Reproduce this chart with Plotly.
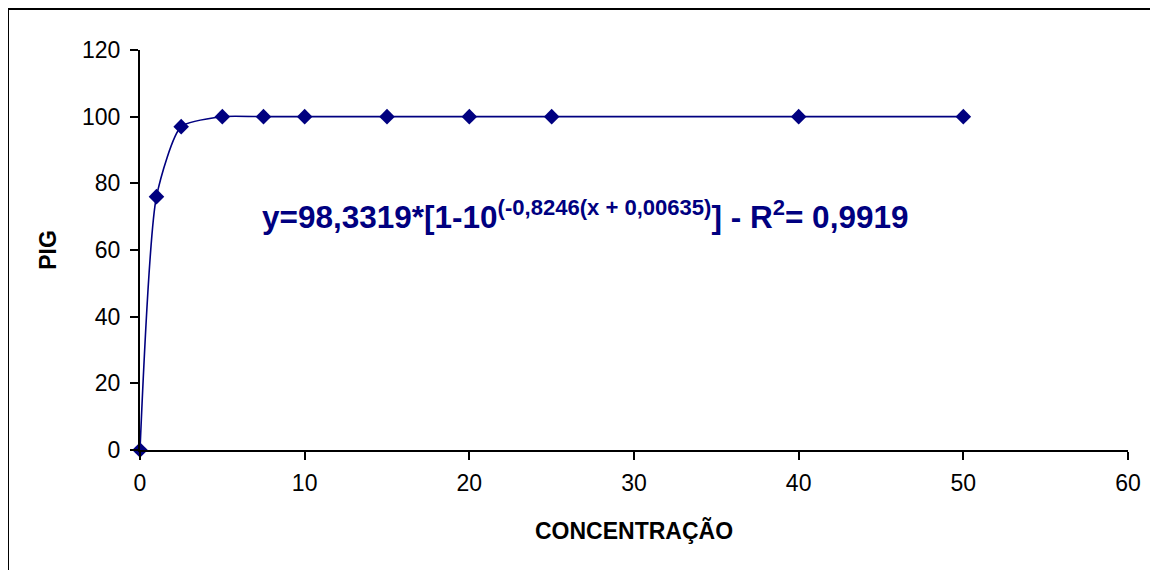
import plotly.graph_objects as go

concentracao = [0, 1, 2.5, 5, 7.5, 10, 15, 20, 25, 40, 50]
pig = [0, 76, 97, 100, 100, 100, 100, 100, 100, 100, 100]
x_ticks = [0, 10, 20, 30, 40, 50, 60]
y_ticks = [0, 20, 40, 60, 80, 100, 120]

navy = "#000080"
font_fam = "Arial, Liberation Sans"

# page has an 8px body margin; figure is sized so the page is 1158x570
W, H = 1150, 562
L, R, T, B = 132, 30, 42, 120
PW, PH = W - L - R, H - T - B

fig = go.Figure()
fig.add_trace(go.Scatter(
    x=concentracao, y=pig, mode="lines+markers",
    line=dict(color=navy, width=1.6, shape="spline", smoothing=0.6),
    marker=dict(symbol="diamond", size=12, color=navy),
    showlegend=False, cliponaxis=False,
))

axis_common = dict(
    showgrid=False, zeroline=False, showline=True, linecolor="black", linewidth=2,
    ticks="outside", ticklen=8, tickwidth=1.5, tickcolor="black",
    tickfont=dict(family=font_fam, size=23, color="black"),
)

fig.update_layout(
    width=W, height=H,
    paper_bgcolor="white", plot_bgcolor="white",
    margin=dict(l=L, r=R, t=T, b=B),
    xaxis=dict(range=[0, 60], tickvals=x_ticks, ticklabelstandoff=3,
               title=dict(text="<b>CONCENTRAÇÃO</b>", standoff=28,
                          font=dict(family=font_fam, size=23, color="black")),
               **axis_common),
    yaxis=dict(range=[0, 120], tickvals=y_ticks, ticklabelstandoff=5,
               title=dict(text="<b>PIG</b>", standoff=19,
                          font=dict(family=font_fam, size=23, color="black")),
               **axis_common),
    annotations=[dict(
        x=27.0, y=70.5, xref="x", yref="y", xanchor="center", yanchor="middle",
        text="<b>y=98,3319*[1-10<sup>(-0,8246(x + 0,00635)</sup>] - R<sup>2</sup>= 0,9919</b>",
        showarrow=False,
        font=dict(family=font_fam, size=31.5, color=navy),
    )],
    shapes=[dict(type="rect", xref="paper", yref="paper",
                 x0=(0 - L) / PW, x1=1.3, y0=-0.6, y1=(PH + T - 1) / PH,
                 line=dict(color="black", width=2), layer="below")],
)

fig.write_html("out.html")
